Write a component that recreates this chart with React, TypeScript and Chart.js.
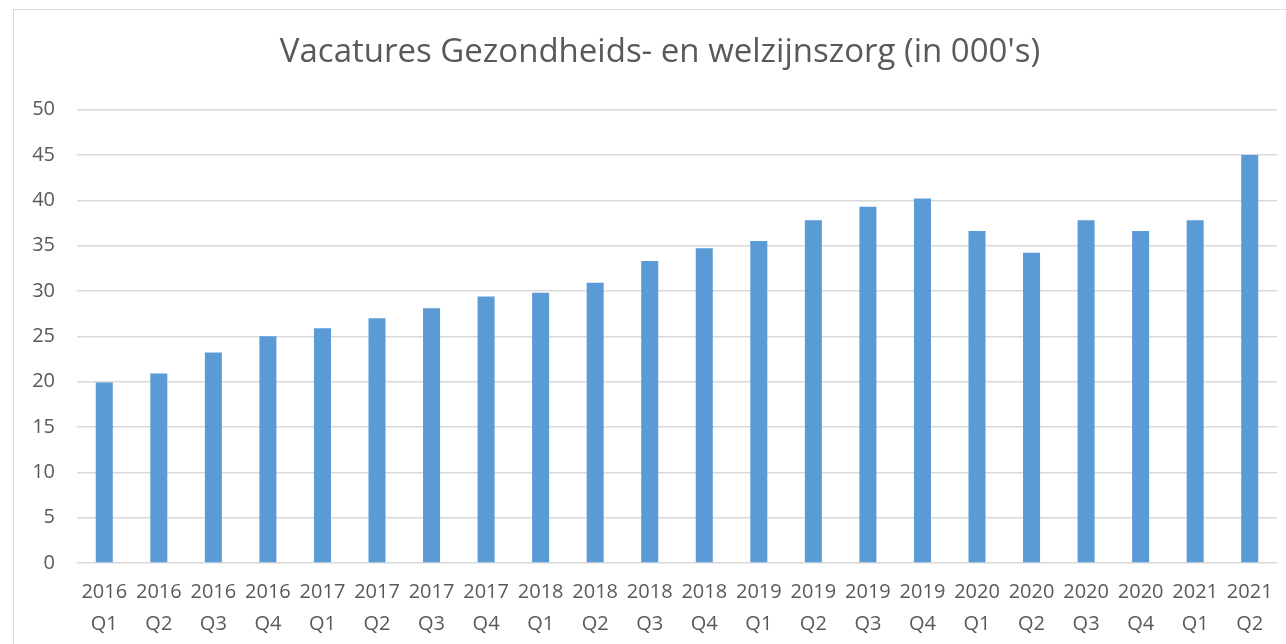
import React, { useEffect, useRef } from "react";
import { Chart, registerables } from "chart.js";

Chart.register(...registerables);

const years = ["2016", "2016", "2016", "2016", "2017", "2017", "2017", "2017", "2018", "2018", "2018", "2018", "2019", "2019", "2019", "2019", "2020", "2020", "2020", "2020", "2021", "2021"];
const quarters = ["Q1", "Q2", "Q3", "Q4", "Q1", "Q2", "Q3", "Q4", "Q1", "Q2", "Q3", "Q4", "Q1", "Q2", "Q3", "Q4", "Q1", "Q2", "Q3", "Q4", "Q1", "Q2"];
const vacatures = [19.9, 20.9, 23.2, 25.0, 25.9, 27.0, 28.1, 29.4, 29.8, 30.9, 33.3, 34.7, 35.5, 37.8, 39.3, 40.2, 36.6, 34.2, 37.8, 36.6, 37.8, 45.0];
const chartTitle = "Vacatures Gezondheids- en welzijnszorg (in 000's)";

const TEXT = "#595959";
const GRID = "#d9d9d9";
const BAR = "#5B9BD5";
const FONT = "'Open Sans', sans-serif";

export default function App() {
  const ref = useRef<HTMLCanvasElement | null>(null);

  useEffect(() => {
    if (!ref.current) return;
    const labels = years.map((y, i) => [y, quarters[i]]);
    const chart = new Chart(ref.current, {
      type: "bar",
      data: {
        labels,
        datasets: [
          {
            label: "Vacatures",
            data: vacatures,
            backgroundColor: BAR,
            borderWidth: 0,
            categoryPercentage: 1,
            barPercentage: 0.312,
            yAxisID: "y",
          },
        ],
      },
      options: {
        animation: false,
        responsive: false,
        maintainAspectRatio: false,
        layout: { padding: 0 },
        plugins: {
          legend: { display: false },
          tooltip: { enabled: false },
          title: {
            display: true,
            text: chartTitle,
            color: TEXT,
            font: { family: FONT, size: 33, weight: "normal", lineHeight: 1.2 },
            padding: { top: 23, bottom: 37 },
          },
        },
        scales: {
          x: {
            afterFit: (scale: any) => {
              scale.height = 95;
            },
            grid: { display: false, drawTicks: false },
            border: { display: false },
            ticks: {
              color: TEXT,
              font: { family: FONT, size: 20, lineHeight: 1.6 },
              padding: 13,
              maxRotation: 0,
              autoSkip: false,
            },
          },
          y: {
            min: 0,
            max: 50,
            afterFit: (scale: any) => {
              scale.width = 63;
            },
            grid: { color: GRID, lineWidth: 1.5, drawTicks: false },
            border: { display: false },
            ticks: {
              stepSize: 5,
              color: TEXT,
              font: { family: FONT, size: 20 },
              padding: 22,
            },
          },
          yRight: {
            position: "right",
            min: 0,
            max: 50,
            afterFit: (scale: any) => {
              scale.width = 29;
            },
            grid: { display: false, drawTicks: false },
            border: { display: false },
            ticks: { display: false },
          },
        },
      },
    });
    return () => chart.destroy();
  }, []);

  return (
    <div
      style={{
        position: "fixed",
        left: 0,
        top: 0,
        width: 1286,
        height: 644,
        overflow: "hidden",
        background: "#fff",
      }}
    >
      <div
        style={{
          position: "absolute",
          left: 13,
          top: 9,
          width: 1292,
          height: 660,
          border: "1px solid #d9d9d9",
          background: "#fff",
        }}
      >
        <canvas ref={ref} width={1292} height={648} style={{ display: "block", width: 1292, height: 648 }} />
      </div>
    </div>
  );
}
